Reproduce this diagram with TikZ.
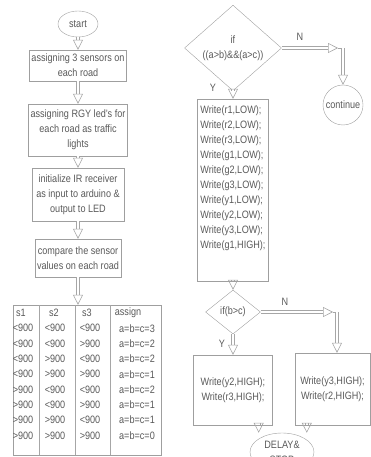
\documentclass[tikz,border=0pt]{standalone}
\usepackage{fontspec}
\setmainfont{Liberation Sans}[FakeStretch=0.85]
\usetikzlibrary{shapes.geometric,arrows.meta,positioning}

\tikzset{
  every node/.style={text=black!65, font=\fontsize{10.7}{15}\selectfont},
  box/.style={draw=gray!75, rectangle, align=center, inner sep=2pt},
  decide/.style={draw=gray!75, diamond, align=center, inner sep=0pt},
  term/.style={draw=gray!75, ellipse, align=center, inner sep=0pt},
  hollow/.style={draw=gray!70, line width=0.6pt, double=white, double distance=2.6pt,
    -{Triangle[open,length=10pt,width=10pt,line width=0.6pt]}},
  thin line/.style={draw=gray!70, line width=0.6pt},
}

\begin{document}
\begin{tikzpicture}[x=1pt,y=-1pt]
  \useasboundingbox (0,0) rectangle (370,457);
  % left column
  \node[term, minimum width=40pt, minimum height=26pt] (start) at (78,24) {start};
  \node[box, minimum width=95pt, minimum height=31pt] (sensors) at (78,65.5)
    {assigning 3 sensors on\\each road};
  \node[box, minimum width=91pt, minimum height=52pt] (leds) at (78,130)
    {assigning RGY led's for\\each road as traffic\\lights};
  \node[box, minimum width=92pt, minimum height=53pt] (ir) at (78,194.5)
    {initialize IR receiver\\as input to arduino \&\\output to LED};
  \node[box, minimum width=86pt, minimum height=38pt] (compare) at (78,258)
    {compare the sensor\\values on each road};
  \node[box, minimum width=148pt, minimum height=150pt] (tbl) at (87,380) {};
  \foreach \x in {39,75,110}
    \draw[thin line] (\x,305) -- (\x,455);
  \node (h1) at (21,313) {s1};
  \node (h2) at (54,313) {s2};
  \node (h3) at (87,313) {s3};
  \node (h4) at (128,313) {assign};
  \foreach \sa/\sb/\sc/\v [count=\i] in {<900/<900/<900/3,<900/<900/>900/2,
      <900/>900/<900/2,<900/>900/>900/1,>900/<900/<900/2,>900/<900/>900/1,
      >900/>900/<900/1,>900/>900/>900/0} {
    \node (a\i) at (23,{313+15.3*\i}) {\sa};
    \node (b\i) at (55,{313+15.3*\i}) {\sb};
    \node (c\i) at (90,{313+15.3*\i}) {\sc};
    \node (v\i) at (137,{313+15.3*\i}) {a=b=c=\v};
  }
  \draw[hollow] (start) -- (sensors);
  \draw[hollow] (sensors) -- (leds);
  \draw[hollow] (leds) -- (ir);
  \draw[hollow] (ir) -- (compare);
  \draw[hollow] (compare) -- (compare |- tbl.north);

  % right column
  \node[decide, minimum width=97pt, minimum height=64pt] (ifa) at (233,48)
    {if\\((a>b)\&\&(a>c))};
  \node[term, circle, minimum size=40pt] (cont) at (343,105) {continue};
  \node[box, minimum width=71pt, minimum height=182pt, align=left] (low) at (233,190)
    {Write(r1,LOW);\\Write(r2,LOW);\\Write(r3,LOW);\\Write(g1,LOW);\\Write(g2,LOW);\\
     Write(g3,LOW);\\Write(y1,LOW);\\Write(y2,LOW);\\Write(y3,LOW);\\Write(g1,HIGH);\\[10pt]\mbox{}};
  \node[decide, minimum width=55pt, minimum height=44pt] (ifb) at (233,312) {if(b>c)};
  \node[box, minimum width=79pt, minimum height=70pt] (yes) at (233,390)
    {Write(y2,HIGH);\\Write(r3,HIGH);};
  \node[box, minimum width=75pt, minimum height=72pt] (no) at (332.5,389)
    {Write(y3,HIGH);\\Write(r2,HIGH);};
  \node[term, minimum width=64pt, minimum height=38pt] (delay) at (282,452)
    {DELAY\&\\STOP};

  \coordinate (na) at (338,48);
  \coordinate (ka) at (343,48);
  \draw[hollow] (ifa.east) -- (na);
  \draw[thin line] (na) -- (ka);
  \draw[hollow] (ka) -- (cont.north);
  \node (ya) at (213,88) {Y};
  \node (nta) at (300,37) {N};
  \draw[hollow] (ifa.south) -- (low.north);
  \draw[hollow] (low.south) -- (ifb.north);

  \coordinate (nb) at (333,312);
  \coordinate (kb) at (337,312);
  \draw[hollow] (ifb.east) -- (nb);
  \draw[thin line] (nb) -- (kb);
  \draw[hollow] (kb) -- (kb |- no.north);
  \node (yb) at (222,344) {Y};
  \node (ntb) at (285,302) {N};
  \draw[hollow] (ifb.south) -- (yes.north);
  \draw[hollow] ([xshift=-14pt]yes.south east) -- ([xshift=-14pt]yes.south east |- delay.north);
  \draw[hollow] ([xshift=12pt]no.south west) -- ([xshift=12pt]no.south west |- delay.north);
\end{tikzpicture}
\end{document}
